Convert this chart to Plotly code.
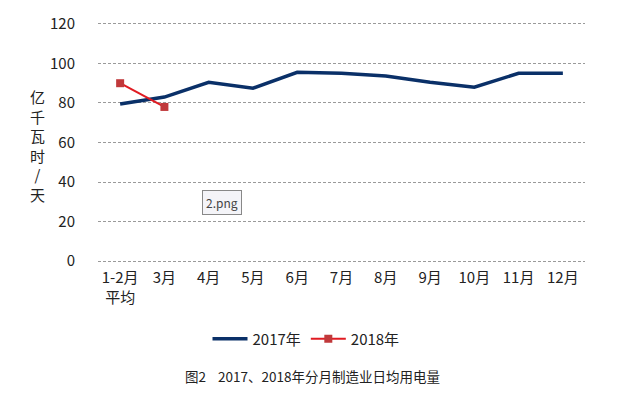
import plotly.graph_objects as go

categories = ["1-2月<br>平均", "3月", "4月", "5月", "6月", "7月", "8月", "9月", "10月", "11月", "12月"]
values_2017 = [79.5, 83, 90.5, 87.5, 95.5, 95, 93.7, 90.5, 88, 95, 95]
values_2018 = [90, 78]
cat_2018 = categories[:2]
y_ticks = [0, 20, 40, 60, 80, 100, 120]

font_cjk = "Noto Sans CJK SC, sans-serif"

OFF = 8  # default page body margin
W, H = 629 - OFF, 396 - OFF
# pixel positions (reference) of the value 0 and 120
Y0, Y120 = 261 - OFF, 24 - OFF
YMIN, YMAX = -3, 123
ppu = (Y0 - Y120) / 120.0
L, R = 98 - OFF, 585 - OFF
T = Y120 - (YMAX - 120) * ppu
B = Y0 + (0 - YMIN) * ppu


def px(x):
    return (x - OFF - L) / (R - L)


def py(y):
    return (B - (y - OFF)) / (B - T)


fig = go.Figure()
fig.add_trace(go.Scatter(
    x=categories, y=values_2017, name="2017年", mode="lines",
    line=dict(color="#0a3068", width=3.5),
))
fig.add_trace(go.Scatter(
    x=cat_2018, y=values_2018, name="2018年", mode="lines+markers",
    line=dict(color="#e01b22", width=2),
    marker=dict(symbol="square", size=8, color="#c0393b"),
))

fig.update_layout(
    width=W, height=H,
    margin=dict(l=L, r=W - R, t=T, b=H - B, autoexpand=False),
    paper_bgcolor="white", plot_bgcolor="white",
    font=dict(family=font_cjk, size=13, color="#222222"),
    showlegend=True,
    legend=dict(orientation="h", x=(306 - OFF) / W, xref="container", xanchor="center",
                y=1 - (339 - OFF) / H, yref="container", yanchor="middle",
                font=dict(size=15), itemwidth=35, tracegroupgap=0),
    xaxis=dict(
        type="category", categoryorder="array", categoryarray=categories,
        range=[-0.5, len(categories) - 0.5], automargin=False,
        showgrid=False, showline=False, zeroline=False, ticks="",
        tickfont=dict(size=15), ticklabelstandoff=0,
    ),
    yaxis=dict(
        range=[YMIN, YMAX], tickvals=y_ticks, ticktext=[str(v) for v in y_ticks],
        automargin=False,
        showgrid=True, gridcolor="#9a9a9a", griddash="3px,2px", gridwidth=1,
        zeroline=False, showline=False, ticks="",
        tickfont=dict(size=15), ticklabelstandoff=22,
    ),
    annotations=[
        dict(text="亿<br>千<br>瓦<br>时<br>/<br>天", x=px(37), y=py(145), xref="paper",
             yref="paper", xanchor="center", yanchor="middle", showarrow=False,
             font=dict(size=15)),
        dict(text="图2    2017、2018年分月制造业日均用电量", x=px(312), y=py(376),
             xref="paper", yref="paper", xanchor="center", yanchor="middle",
             showarrow=False, font=dict(size=13.5, color="#222222")),
        dict(text="2.png", x=px(222), y=py(202), xref="paper", yref="paper",
             xanchor="center", yanchor="middle", showarrow=False,
             font=dict(size=12, color="#444444"), bordercolor="#888888",
             borderwidth=1, borderpad=3, bgcolor="#f4f4f8"),
    ],
)

fig.write_html("out.html")
